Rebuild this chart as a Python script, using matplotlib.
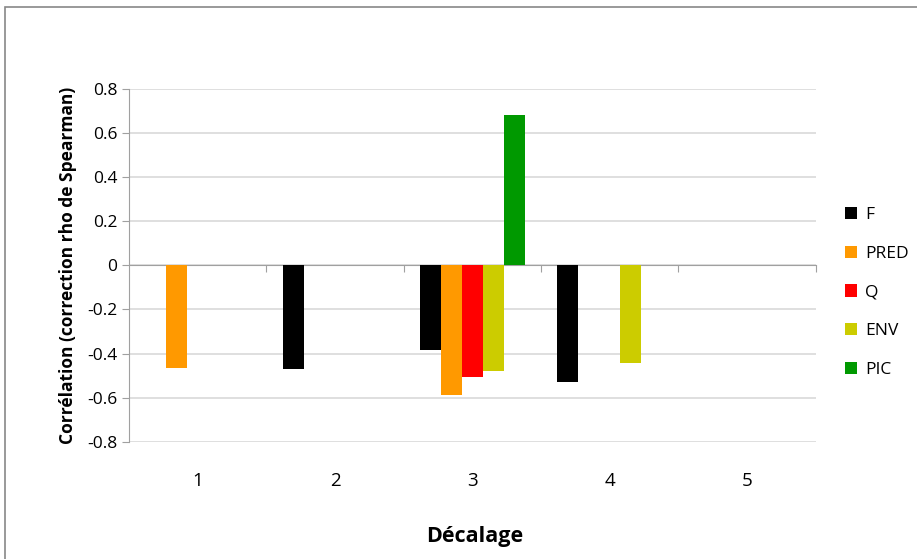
import matplotlib.pyplot as plt
import numpy as np
from matplotlib.patches import Rectangle

# Spearman rho per lag (NaN = no significant correlation, no bar)
lags = ['1', '2', '3', '4', '5']
series = ['F', 'PRED', 'Q', 'ENV', 'PIC']
colors = ['#000000', '#FF9900', '#FF0000', '#CCCC00', '#009900']
F = [np.nan, -0.47, -0.385, -0.53, np.nan]
PRED = [-0.465, np.nan, -0.59, np.nan, np.nan]
Q = [np.nan, np.nan, -0.505, np.nan, np.nan]
ENV = [np.nan, np.nan, -0.48, -0.445, np.nan]
PIC = [np.nan, np.nan, 0.68, np.nan, np.nan]
values = [F, PRED, Q, ENV, PIC]

plt.rcParams['font.family'] = ['Open Sans', 'DejaVu Sans']

fig = plt.figure(figsize=(9.17, 5.59), dpi=100)
ax = fig.add_axes([0.1407, 0.2098, 0.749, 0.631])

# outer chart border
fig.patches.append(Rectangle((5 / 917, -0.1), 1.2, (559 - 7) / 559 + 0.1,
                             transform=fig.transFigure, fill=False,
                             edgecolor='#888888', linewidth=1.2))

x = np.arange(len(lags))
w = 0.153
for k, (name, vals, c) in enumerate(zip(series, values, colors)):
    ax.bar(x + (k - 2) * w, vals, width=w, color=c, label=name, zorder=3)

ax.set_xlim(-0.5, len(lags) - 0.5)
ax.set_ylim(-0.8, 0.8)
ax.set_yticks(np.arange(-0.8, 0.81, 0.2))
ax.set_yticklabels(['-0.8', '-0.6', '-0.4', '-0.2', '0', '0.2', '0.4', '0.6', '0.8'],
                   fontsize=12.5)
ax.yaxis.grid(True, color='#D9D9D9', linewidth=1.2, zorder=0)

for s in ['top', 'right']:
    ax.spines[s].set_visible(False)
ax.spines['left'].set_color('#A0A0A0')
ax.spines['bottom'].set_position(('data', 0))
ax.spines['bottom'].set_color('#A0A0A0')
ax.tick_params(axis='y', color='#A0A0A0', length=5)

# axis ticks at category boundaries, labels below the plot
ax.set_xticks(np.arange(0.5, len(lags), 1.0))
ax.set_xticklabels([])
ax.tick_params(axis='x', color='#A0A0A0', length=5, direction='out')
for i, lab in enumerate(lags):
    ax.text(i, -0.111, lab, transform=ax.get_xaxis_transform(),
            ha='center', va='center', fontsize=13.5)

ax.set_ylabel('Corrélation (correction rho de Spearman)', fontsize=12.5,
              fontweight='bold', labelpad=7)
fig.text(0.518, 0.04, 'Décalage', ha='center', va='center', fontsize=15.5,
         fontweight='bold')

ax.legend(loc='center left', bbox_to_anchor=(1.02, 0.423), frameon=False,
          fontsize=12.5, handlelength=0.7, handleheight=0.7, labelspacing=1.3,
          handletextpad=0.45)

fig.savefig('out.png', dpi=100)
